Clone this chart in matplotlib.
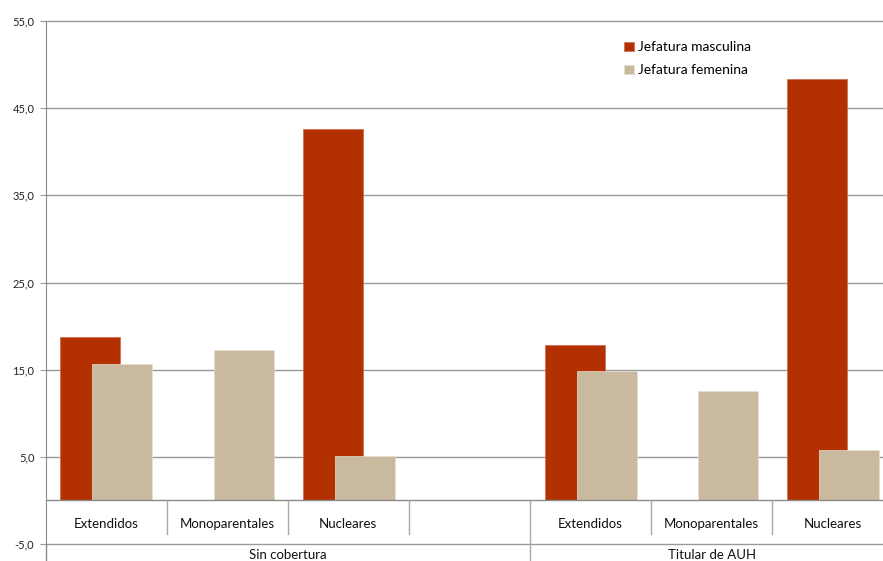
import matplotlib.pyplot as plt

categorias = ["Extendidos", "Monoparentales", "Nucleares", "",
              "Extendidos", "Monoparentales", "Nucleares"]
grupos = ["Sin cobertura", "Titular de AUH"]
masculina = [18.8, 0.0, 42.6, 0.0, 17.8, 0.0, 48.4]
femenina = [15.7, 17.2, 5.1, 0.0, 14.9, 12.6, 5.8]
yticks = [-5, 5, 15, 25, 35, 45, 55]

rojo = "#B33000"
beige = "#C9B99F"
gris = "#9A9A9A"

plt.rcParams['font.family'] = ['Lato', 'DejaVu Sans']

fig = plt.figure(figsize=(8.83, 5.61), dpi=100)
ax = fig.add_axes([45.5 / 883, 17 / 561, 848 / 883, 523 / 561])

x = list(range(len(categorias)))
ax.bar([i - 0.13 for i in x], masculina, width=0.495, color=rojo,
       edgecolor="#CF6A50", linewidth=0.5, zorder=3, label="Jefatura masculina")
ax.bar([i + 0.135 for i in x], femenina, width=0.495, color=beige,
       edgecolor="#E6DED2", linewidth=0.5, zorder=4, label="Jefatura femenina")

ax.set_xlim(-0.5, 6.5)
ax.set_ylim(-5, 55)
ax.set_yticks(yticks)
ax.set_yticklabels([f"{v:.1f}".replace(".", ",") for v in yticks],
                   fontsize=8, color="#222222")
ax.tick_params(axis="y", length=4, color=gris, pad=4)
ax.set_xticks([])
for v in yticks:
    ax.axhline(v, color=gris, linewidth=1, zorder=0, clip_on=False)

for s in ["top", "right", "bottom"]:
    ax.spines[s].set_visible(False)
ax.spines["left"].set_color("#8A8A8A")
ax.axhline(0, color="#8A8A8A", linewidth=1, zorder=5)

# etiquetas de categoria con separadores
for i, c in enumerate(categorias):
    ax.text(i, -2.65, c, ha="center", va="center", fontsize=9.5, color="#111111")
for b in [0.5, 1.5, 2.5, 4.5, 5.5]:
    ax.plot([b, b], [0, -3.9], color="#A8A8A8", linewidth=1, zorder=5)
ax.plot([3.5, 3.5], [0, -8], color="#A8A8A8", linewidth=1, zorder=5, clip_on=False)
ax.plot([-0.5, -0.5], [-5, -8], color="#8A8A8A", linewidth=1, clip_on=False)

# etiquetas de grupo
ax.text(1.5, -6.75, grupos[0], ha="center", va="baseline", fontsize=9.5,
        color="#111111", clip_on=False)
ax.text(5.0, -6.75, grupos[1], ha="center", va="baseline", fontsize=9.5,
        color="#111111", clip_on=False)

ax.legend(loc="upper left", bbox_to_anchor=(0.668, 0.985), frameon=False,
          fontsize=10, handlelength=0.7, handleheight=0.7, handletextpad=0.3,
          labelspacing=0.8)

fig.savefig("out.png", dpi=100)
